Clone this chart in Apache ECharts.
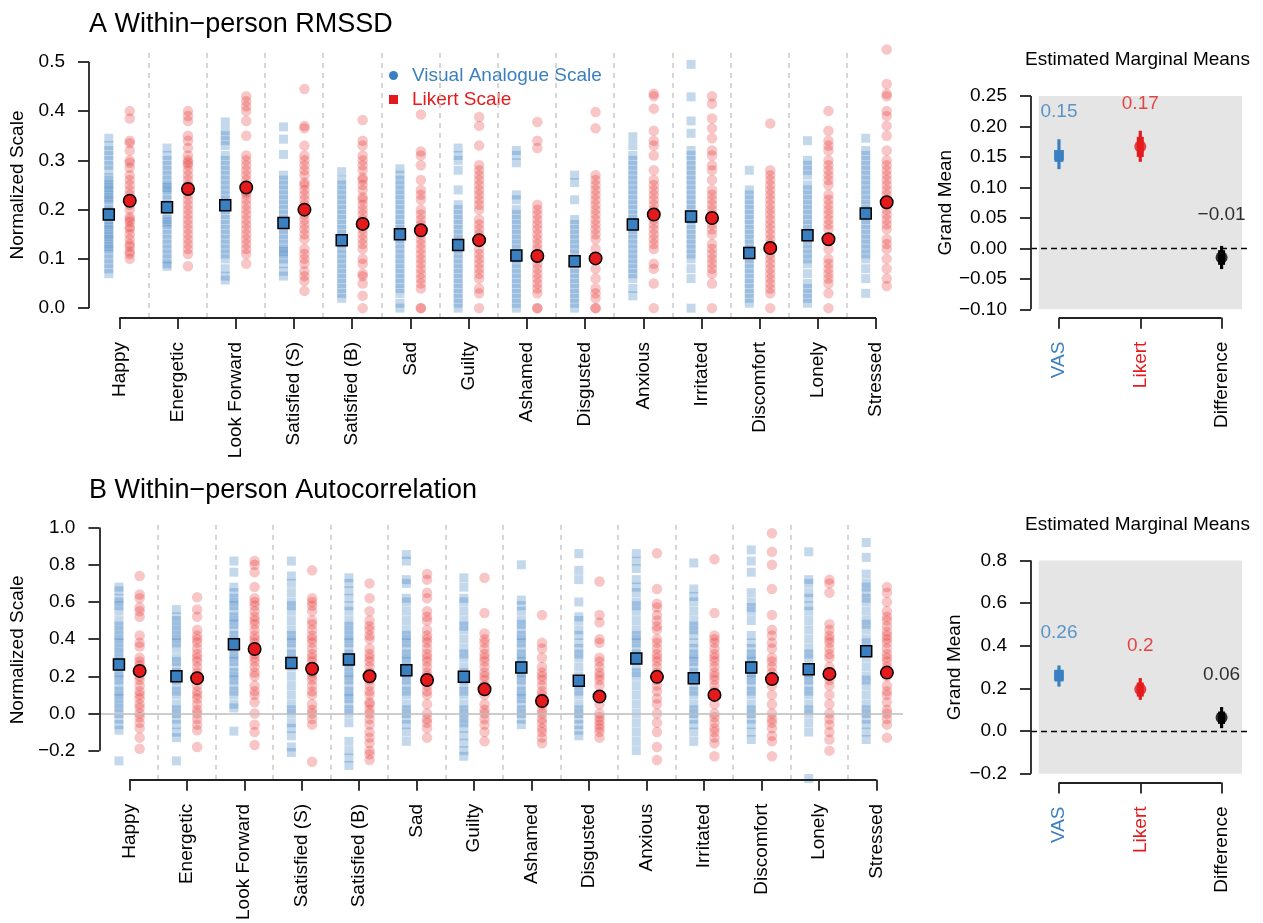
<!DOCTYPE html>
<html><head><meta charset="utf-8">
<script src="https://cdn.jsdelivr.net/npm/echarts@6/dist/echarts.min.js"></script>
<style>html,body{margin:0;padding:0;background:#fff}#c{width:1263px;height:923px}</style>
</head><body><div id="c"></div><script>
const categories = ['Happy','Energetic','Look Forward','Satisfied (S)','Satisfied (B)','Sad','Guilty','Ashamed','Disgusted','Anxious','Irritated','Discomfort','Lonely','Stressed'];
const rmssdTicks = [0,0.1,0.2,0.3,0.4,0.5];
const acTicks = [-0.2,0,0.2,0.4,0.6,0.8,1.0];
const emmLabels = ['VAS','Likert','Difference'];
const emmTicksA = [-0.1,-0.05,0,0.05,0.1,0.15,0.2,0.25];
const emmTicksB = [-0.2,0,0.2,0.4,0.6,0.8];

// Panel A: individual within-person RMSSD
const rmssdVas = [
 [0.345,0.33,0.32,0.31,0.30,0.29,0.28,0.265,0.26,0.25,0.245,0.24,0.23,0.225,0.22,0.21,0.20,0.195,0.19,0.18,0.17,0.165,0.16,0.15,0.145,0.14,0.13,0.125,0.12,0.11,0.10,0.09,0.08,0.07],
 [0.325,0.31,0.30,0.29,0.28,0.27,0.26,0.25,0.245,0.24,0.23,0.22,0.21,0.205,0.20,0.19,0.18,0.175,0.17,0.16,0.15,0.14,0.13,0.12,0.11,0.10,0.09,0.085],
 [0.378,0.36,0.35,0.34,0.33,0.31,0.30,0.29,0.28,0.27,0.26,0.25,0.24,0.23,0.22,0.21,0.20,0.19,0.18,0.17,0.16,0.15,0.14,0.13,0.12,0.11,0.10,0.08,0.065,0.057],
 [0.368,0.343,0.312,0.27,0.26,0.25,0.24,0.23,0.22,0.21,0.20,0.19,0.18,0.17,0.16,0.15,0.14,0.13,0.12,0.115,0.11,0.10,0.09,0.075,0.065],
 [0.277,0.26,0.25,0.24,0.23,0.22,0.21,0.20,0.19,0.18,0.17,0.16,0.15,0.14,0.13,0.12,0.11,0.10,0.09,0.08,0.07,0.06,0.05,0.04,0.03,0.02],
 [0.283,0.27,0.26,0.25,0.24,0.23,0.22,0.21,0.20,0.19,0.18,0.17,0.16,0.15,0.14,0.13,0.12,0.11,0.10,0.09,0.08,0.07,0.06,0.05,0.04,0.03,0.01,0.0],
 [0.325,0.31,0.30,0.28,0.24,0.21,0.20,0.19,0.18,0.17,0.16,0.15,0.14,0.13,0.12,0.11,0.10,0.09,0.08,0.07,0.06,0.05,0.04,0.03,0.02,0.01,0.0],
 [0.32,0.31,0.295,0.23,0.22,0.20,0.19,0.18,0.17,0.16,0.15,0.14,0.13,0.12,0.11,0.10,0.09,0.08,0.07,0.06,0.05,0.04,0.03,0.02,0.01,0.0],
 [0.27,0.255,0.22,0.18,0.17,0.16,0.15,0.14,0.13,0.12,0.11,0.10,0.09,0.08,0.07,0.06,0.05,0.04,0.03,0.02,0.01,0.0],
 [0.348,0.33,0.31,0.30,0.29,0.28,0.27,0.26,0.25,0.24,0.23,0.22,0.21,0.20,0.19,0.18,0.17,0.16,0.15,0.14,0.13,0.12,0.11,0.10,0.09,0.08,0.07,0.06,0.04,0.025],
 [0.495,0.429,0.38,0.355,0.32,0.31,0.30,0.29,0.28,0.27,0.26,0.25,0.24,0.23,0.22,0.21,0.20,0.19,0.18,0.17,0.16,0.15,0.14,0.13,0.12,0.11,0.10,0.08,0.06,0.0],
 [0.28,0.24,0.23,0.22,0.21,0.20,0.19,0.18,0.17,0.16,0.15,0.14,0.13,0.12,0.11,0.10,0.09,0.08,0.07,0.06,0.05,0.04,0.03,0.02,0.01],
 [0.34,0.30,0.29,0.28,0.27,0.25,0.24,0.23,0.22,0.21,0.20,0.19,0.18,0.17,0.16,0.15,0.14,0.13,0.12,0.11,0.10,0.09,0.07,0.05,0.04,0.03,0.02,0.01],
 [0.345,0.32,0.31,0.30,0.29,0.28,0.27,0.26,0.25,0.24,0.23,0.22,0.21,0.20,0.19,0.18,0.17,0.16,0.15,0.14,0.13,0.12,0.11,0.10,0.08,0.06,0.03]
];
const rmssdLikert = [
 [0.40,0.385,0.34,0.335,0.32,0.30,0.295,0.285,0.27,0.26,0.25,0.24,0.23,0.22,0.21,0.20,0.185,0.18,0.175,0.165,0.16,0.15,0.14,0.13,0.125,0.115,0.11,0.10],
 [0.40,0.39,0.38,0.35,0.34,0.325,0.31,0.30,0.295,0.29,0.28,0.27,0.26,0.25,0.24,0.23,0.22,0.21,0.20,0.19,0.18,0.17,0.16,0.15,0.14,0.13,0.12,0.11,0.085],
 [0.43,0.42,0.41,0.40,0.38,0.35,0.31,0.30,0.29,0.28,0.27,0.26,0.25,0.24,0.235,0.23,0.22,0.21,0.20,0.19,0.18,0.17,0.16,0.15,0.14,0.13,0.12,0.11,0.09],
 [0.445,0.37,0.365,0.33,0.31,0.30,0.29,0.28,0.27,0.255,0.25,0.24,0.23,0.22,0.21,0.20,0.19,0.18,0.17,0.16,0.15,0.14,0.12,0.11,0.10,0.09,0.075,0.065,0.055,0.035],
 [0.382,0.34,0.33,0.31,0.30,0.29,0.28,0.265,0.26,0.25,0.24,0.225,0.22,0.21,0.20,0.19,0.18,0.17,0.16,0.15,0.14,0.13,0.12,0.10,0.09,0.07,0.065,0.05,0.025,0.0],
 [0.393,0.318,0.31,0.29,0.26,0.24,0.23,0.22,0.20,0.19,0.18,0.17,0.16,0.15,0.14,0.13,0.12,0.11,0.10,0.09,0.08,0.07,0.06,0.05,0.04,0.0,0.0],
 [0.388,0.37,0.33,0.29,0.28,0.27,0.26,0.25,0.24,0.23,0.22,0.21,0.20,0.18,0.17,0.16,0.15,0.14,0.12,0.11,0.10,0.09,0.08,0.07,0.06,0.04,0.03,0.0],
 [0.378,0.34,0.325,0.21,0.20,0.19,0.18,0.17,0.16,0.15,0.14,0.13,0.12,0.11,0.10,0.09,0.08,0.07,0.06,0.05,0.04,0.03,0.0,0.0],
 [0.398,0.365,0.27,0.26,0.25,0.24,0.23,0.22,0.21,0.20,0.19,0.18,0.17,0.16,0.15,0.14,0.12,0.10,0.08,0.06,0.04,0.03,0.02,0.0,0.0],
 [0.435,0.43,0.405,0.36,0.34,0.33,0.31,0.28,0.26,0.25,0.24,0.23,0.22,0.21,0.20,0.19,0.18,0.17,0.16,0.15,0.14,0.13,0.12,0.09,0.08,0.05,0.0],
 [0.43,0.415,0.385,0.365,0.345,0.32,0.31,0.29,0.28,0.26,0.24,0.23,0.22,0.21,0.20,0.19,0.18,0.17,0.16,0.15,0.13,0.12,0.11,0.10,0.09,0.08,0.07,0.05,0.0],
 [0.375,0.28,0.27,0.26,0.25,0.24,0.23,0.22,0.21,0.20,0.19,0.18,0.17,0.16,0.15,0.14,0.13,0.12,0.11,0.10,0.09,0.08,0.07,0.06,0.05,0.04,0.03,0.0],
 [0.40,0.36,0.34,0.33,0.32,0.30,0.29,0.28,0.27,0.26,0.25,0.23,0.22,0.21,0.20,0.19,0.18,0.17,0.16,0.14,0.12,0.10,0.09,0.08,0.07,0.06,0.05,0.03,0.0],
 [0.525,0.455,0.435,0.43,0.40,0.39,0.37,0.35,0.32,0.30,0.29,0.28,0.27,0.26,0.25,0.24,0.23,0.22,0.21,0.20,0.19,0.18,0.17,0.16,0.14,0.13,0.12,0.10,0.08,0.06,0.045]
];
const rmssdVasMean = [0.19,0.205,0.209,0.173,0.138,0.15,0.128,0.107,0.095,0.17,0.186,0.112,0.148,0.192];
const rmssdLikertMean = [0.218,0.242,0.245,0.20,0.171,0.158,0.138,0.106,0.101,0.19,0.183,0.122,0.14,0.215];

// Panel B: individual within-person autocorrelation
const acVas = [
 [0.68,0.66,0.62,0.60,0.58,0.55,0.50,0.47,0.45,0.42,0.40,0.38,0.35,0.33,0.30,0.28,0.25,0.22,0.20,0.18,0.15,0.12,0.10,0.08,0.05,0.03,0.0,-0.03,-0.06,-0.09,-0.255],
 [0.56,0.52,0.50,0.47,0.45,0.42,0.40,0.38,0.35,0.30,0.28,0.25,0.22,0.20,0.18,0.15,0.12,0.10,0.05,0.02,0.0,-0.03,-0.06,-0.10,-0.13,-0.255],
 [0.82,0.76,0.68,0.65,0.62,0.60,0.58,0.55,0.52,0.50,0.48,0.45,0.42,0.40,0.38,0.35,0.32,0.30,0.28,0.25,0.22,0.20,0.18,0.15,0.12,0.10,0.05,0.03,-0.095],
 [0.82,0.74,0.70,0.65,0.60,0.58,0.55,0.50,0.45,0.42,0.40,0.38,0.35,0.32,0.30,0.25,0.20,0.15,0.10,0.05,0.02,0.0,-0.05,-0.08,-0.12,-0.18,-0.21],
 [0.73,0.70,0.66,0.62,0.58,0.55,0.50,0.47,0.45,0.42,0.40,0.38,0.35,0.32,0.30,0.27,0.25,0.22,0.20,0.18,0.15,0.12,0.10,0.08,0.05,0.02,0.0,-0.05,-0.15,-0.20,-0.24,-0.28],
 [0.855,0.82,0.72,0.70,0.62,0.60,0.55,0.50,0.45,0.42,0.40,0.38,0.35,0.32,0.30,0.28,0.25,0.22,0.20,0.18,0.15,0.12,0.10,0.05,0.02,0.0,-0.03,-0.06,-0.10,-0.15],
 [0.73,0.68,0.62,0.60,0.55,0.50,0.47,0.45,0.40,0.35,0.32,0.30,0.25,0.22,0.20,0.18,0.15,0.12,0.10,0.05,0.02,0.0,-0.03,-0.05,-0.08,-0.12,-0.16,-0.20,-0.23],
 [0.80,0.61,0.58,0.55,0.50,0.48,0.45,0.42,0.40,0.38,0.35,0.32,0.30,0.28,0.25,0.22,0.20,0.18,0.15,0.12,0.10,0.08,0.05,0.02,0.0,-0.03,-0.06],
 [0.86,0.77,0.72,0.60,0.52,0.50,0.45,0.42,0.38,0.35,0.32,0.30,0.25,0.20,0.15,0.12,0.10,0.05,0.02,0.0,-0.03,-0.06,-0.09,-0.12],
 [0.86,0.82,0.78,0.72,0.68,0.65,0.60,0.58,0.55,0.50,0.45,0.42,0.40,0.38,0.35,0.32,0.30,0.25,0.22,0.20,0.15,0.10,0.05,0.0,-0.05,-0.10,-0.15,-0.20],
 [0.81,0.67,0.63,0.60,0.55,0.50,0.47,0.45,0.42,0.38,0.35,0.32,0.30,0.28,0.25,0.22,0.20,0.18,0.15,0.12,0.10,0.05,0.02,0.0,-0.03,-0.06,-0.10,-0.15],
 [0.88,0.82,0.76,0.65,0.60,0.57,0.55,0.50,0.42,0.38,0.35,0.32,0.30,0.28,0.25,0.22,0.20,0.18,0.15,0.12,0.10,0.05,0.02,0.0,-0.03,-0.06,-0.10,-0.14],
 [0.87,0.72,0.70,0.65,0.62,0.58,0.55,0.50,0.45,0.40,0.35,0.32,0.30,0.25,0.22,0.20,0.18,0.15,0.12,0.10,0.05,0.02,0.0,-0.05,-0.10,-0.35],
 [0.92,0.84,0.75,0.70,0.68,0.65,0.62,0.60,0.55,0.50,0.48,0.45,0.40,0.38,0.35,0.30,0.25,0.20,0.18,0.15,0.10,0.05,0.02,0.0,-0.03,-0.06,-0.10,-0.14]
];
const acLikert = [
 [0.74,0.64,0.62,0.57,0.55,0.52,0.42,0.38,0.36,0.30,0.28,0.26,0.24,0.22,0.20,0.18,0.15,0.12,0.10,0.08,0.05,0.03,0.0,-0.02,-0.05,-0.08,-0.13,-0.19],
 [0.625,0.56,0.52,0.45,0.42,0.40,0.38,0.35,0.32,0.30,0.28,0.25,0.22,0.20,0.18,0.15,0.12,0.10,0.08,0.05,0.02,0.0,-0.03,-0.06,-0.09,-0.18],
 [0.82,0.80,0.76,0.68,0.62,0.60,0.58,0.55,0.52,0.50,0.48,0.45,0.42,0.40,0.38,0.35,0.32,0.30,0.28,0.25,0.22,0.20,0.15,0.12,0.10,0.06,0.0,-0.06,-0.10,-0.17],
 [0.77,0.62,0.60,0.58,0.55,0.50,0.48,0.45,0.42,0.40,0.38,0.35,0.32,0.30,0.28,0.25,0.22,0.20,0.18,0.15,0.12,0.10,0.05,0.02,0.0,-0.03,-0.06,-0.26],
 [0.70,0.62,0.55,0.50,0.47,0.45,0.42,0.40,0.35,0.32,0.30,0.28,0.25,0.22,0.20,0.18,0.15,0.12,0.10,0.06,0.05,0.02,0.0,-0.03,-0.06,-0.10,-0.13,-0.16,-0.20,-0.22,-0.25],
 [0.75,0.72,0.65,0.62,0.55,0.52,0.50,0.45,0.42,0.40,0.38,0.35,0.32,0.30,0.28,0.25,0.22,0.20,0.18,0.15,0.12,0.10,0.05,0.0,-0.03,-0.05,-0.08,-0.13],
 [0.73,0.54,0.43,0.40,0.38,0.35,0.32,0.30,0.28,0.25,0.22,0.20,0.18,0.15,0.12,0.10,0.05,0.02,0.0,-0.03,-0.06,-0.10,-0.15],
 [0.53,0.38,0.35,0.30,0.25,0.22,0.20,0.18,0.15,0.12,0.10,0.08,0.05,0.02,0.0,-0.03,-0.05,-0.08,-0.10,-0.13,-0.16],
 [0.71,0.53,0.49,0.40,0.38,0.30,0.28,0.25,0.22,0.20,0.18,0.15,0.10,0.05,0.0,-0.02,-0.04,-0.06,-0.08,-0.10,-0.13],
 [0.862,0.67,0.59,0.57,0.53,0.50,0.47,0.45,0.40,0.38,0.35,0.32,0.30,0.28,0.25,0.22,0.20,0.18,0.15,0.12,0.08,0.05,0.0,-0.05,-0.10,-0.18,-0.25],
 [0.83,0.54,0.42,0.40,0.38,0.35,0.32,0.30,0.28,0.25,0.22,0.20,0.18,0.15,0.12,0.10,0.05,0.0,-0.02,-0.05,-0.08,-0.10,-0.13,-0.16,-0.23],
 [0.97,0.87,0.80,0.67,0.53,0.45,0.42,0.38,0.35,0.30,0.28,0.25,0.22,0.18,0.15,0.10,0.05,0.0,-0.03,-0.05,-0.08,-0.12,-0.15,-0.23],
 [0.72,0.70,0.65,0.48,0.45,0.42,0.40,0.38,0.35,0.32,0.30,0.25,0.22,0.20,0.18,0.15,0.10,0.05,0.0,-0.03,-0.06,-0.10,-0.14,-0.20],
 [0.68,0.65,0.60,0.55,0.52,0.50,0.47,0.44,0.42,0.40,0.38,0.35,0.32,0.30,0.28,0.25,0.20,0.15,0.12,0.10,0.06,0.02,0.0,-0.03,-0.06,-0.13]
];
const acVasMean = [0.264,0.2,0.373,0.271,0.291,0.233,0.197,0.247,0.176,0.296,0.19,0.247,0.238,0.335];
const acLikertMean = [0.229,0.19,0.347,0.241,0.2,0.18,0.13,0.067,0.091,0.197,0.1,0.185,0.213,0.22];

// Estimated marginal means
const emmMeanA = [0.153,0.167,-0.015];
const emmInnerLoA = [0.142,0.150,-0.027];
const emmInnerHiA = [0.161,0.183,-0.003];
const emmOuterLoA = [0.130,0.142,-0.034];
const emmOuterHiA = [0.179,0.193,0.004];
const emmTextA = ['0.15','0.17','\u22120.01'];
const emmMeanB = [0.261,0.197,0.064];
const emmInnerLoB = [0.233,0.162,0.034];
const emmInnerHiB = [0.288,0.228,0.092];
const emmOuterLoB = [0.209,0.147,0.014];
const emmOuterHiB = [0.308,0.249,0.113];
const emmTextB = ['0.26','0.2','0.06'];

const BLUE = '#3A7FC0', RED = '#E41A1C', AX = '#222', FF = "'Liberation Sans', Arial, Helvetica, sans-serif";
const emmColors = [BLUE, RED, '#000000'];
const catIdx = categories.map((c,i)=>i);
const seps = categories.slice(1).map((c,i)=>i+0.5);
const fmt = (v,d) => (v < -1e-9 ? '\u2212' : '') + Math.abs(v).toFixed(d);

function pts(arrs, off){ const o=[]; arrs.forEach((a,i)=>a.forEach(v=>o.push([i+off,v]))); return o; }
function meanPts(arr, off){ return arr.map((v,i)=>[i+off,v]); }

const XMIN=-0.52, XMAX=13.46, EXMIN=-0.344, EXMAX=2.325;
const axStyle = {color:AX, width:1.8};
function tickCfg(vals){ return {show:true, length:11, inside:false, customValues:vals, lineStyle:axStyle}; }
const hiddenLine = {show:false, onZero:false};

function leftX(gi){
  return {type:'value', gridIndex:gi, min:XMIN, max:XMAX, axisLine:hiddenLine, splitLine:{show:false},
    axisTick:tickCfg(catIdx),
    axisLabel:{customValues:catIdx, rotate:90, margin:24, fontSize:19, color:'#000', fontFamily:FF,
      formatter:v=>categories[Math.round(v)]}};
}
function leftY(gi, mn, mx, ticks, d){
  return {type:'value', gridIndex:gi, min:mn, max:mx, axisLine:hiddenLine, splitLine:{show:false},
    axisTick:tickCfg(ticks),
    axisLabel:{customValues:ticks, margin:24, fontSize:19, color:'#000', fontFamily:FF, formatter:v=>fmt(v,d)},
    name:'Normalized Scale', nameLocation:'middle', nameGap:56,
    nameTextStyle:{fontSize:19, color:'#000', fontFamily:FF}};
}
function rightX(gi){
  return {type:'value', gridIndex:gi, min:EXMIN, max:EXMAX, axisLine:hiddenLine, splitLine:{show:false},
    axisTick:tickCfg([0,1,2]),
    axisLabel:{customValues:[0,1,2], rotate:90, margin:24, fontSize:19, fontFamily:FF,
      formatter:v=>emmLabels[Math.round(v)],
      color:(v,i)=>{ const k=Math.round(parseFloat(v)); return emmColors[isNaN(k)?i:k] || '#000'; }}};
}
function rightY(gi, mn, mx, ticks, d){
  return {type:'value', gridIndex:gi, min:mn, max:mx, axisLine:hiddenLine, splitLine:{show:false},
    axisTick:tickCfg(ticks),
    axisLabel:{customValues:ticks, margin:24, fontSize:19, color:'#000', fontFamily:FF, formatter:v=>fmt(v,d)},
    name:'Grand Mean', nameLocation:'middle', nameGap:67,
    nameTextStyle:{fontSize:19, color:'#000', fontFamily:FF}};
}
function axisLineData(xAt, ylo, yhi, xlo, xhi, yAt){
  return [[{coord:[xAt,ylo]},{coord:[xAt,yhi]}],[{coord:[xlo,yAt]},{coord:[xhi,yAt]}]];
}

function leftSeries(gi, vas, lik, vasM, likM, ymin, ylo, yhi, zeroLine){
  const s = [];
  s.push({type:'scatter', name:'sep', xAxisIndex:gi, yAxisIndex:gi, data:[], silent:true, z:1,
    markLine:{silent:true, symbol:['none','none'], label:{show:false}, animation:false,
      lineStyle:{type:[5,5], color:'#c9c9c9', width:1.5},
      data:seps.map(x=>({xAxis:x})).concat(zeroLine ? [{yAxis:0, lineStyle:{type:'solid', color:'#bdbdbd', width:1.5}}] : [])}});
  s.push({type:'scatter', name:'Visual Analogue Scale', xAxisIndex:gi, yAxisIndex:gi, data:pts(vas,-0.18),
    symbol:'rect', symbolSize:9, clip:false, z:2, itemStyle:{color:BLUE, opacity:0.3}, emphasis:{disabled:true}});
  s.push({type:'scatter', name:'Likert Scale', xAxisIndex:gi, yAxisIndex:gi, data:pts(lik,0.18),
    symbol:'circle', symbolSize:10.5, clip:false, z:2, itemStyle:{color:RED, opacity:0.25}, emphasis:{disabled:true}});
  s.push({type:'scatter', name:'vasMean', xAxisIndex:gi, yAxisIndex:gi, data:meanPts(vasM,-0.18),
    symbol:'rect', symbolSize:11, clip:false, z:5, itemStyle:{color:BLUE, borderColor:'#000', borderWidth:1.5, opacity:1},
    markLine:{silent:true, symbol:['none','none'], label:{show:false}, animation:false, lineStyle:{type:'solid', color:AX, width:1.8},
      data:axisLineData(XMIN, ylo, yhi, 0, 13, ymin)}});
  s.push({type:'scatter', name:'likMean', xAxisIndex:gi, yAxisIndex:gi, data:meanPts(likM,0.18),
    symbol:'circle', symbolSize:12.5, clip:false, z:6, itemStyle:{color:RED, borderColor:'#000', borderWidth:1.5, opacity:1}});
  return s;
}

function ciRender(width){
  return function(params, api){
    const x = api.value(0), lo = api.value(1), hi = api.value(2);
    const p1 = api.coord([x, lo]), p2 = api.coord([x, hi]);
    const k = Math.round(x);
    return {type:'line', shape:{x1:p1[0], y1:p1[1], x2:p2[0], y2:p2[1]},
      style:{stroke:emmColors[k], lineWidth:(k===0 && width>5) ? width+2 : width}};
  };
}
function rightSeries(gi, mean, ilo, ihi, olo, ohi, texts, ymin, ylo, yhi){
  const s = [];
  s.push({type:'scatter', name:'bg', xAxisIndex:gi, yAxisIndex:gi, data:[], silent:true, z:0,
    markArea:{silent:true, itemStyle:{color:'#E5E5E5'}, data:[[{coord:[-0.25, ylo]},{coord:[2.25, yhi]}]]},
    markLine:{silent:true, symbol:['none','none'], label:{show:false}, animation:false,
      lineStyle:{type:[6,4], color:'#000', width:1.3}, data:[{yAxis:0}]}});
  s.push({type:'custom', name:'outer', xAxisIndex:gi, yAxisIndex:gi, z:3, silent:true,
    encode:{x:0, y:[1,2]}, renderItem:ciRender(3.2), data:olo.map((v,i)=>[i, v, ohi[i]])});
  s.push({type:'custom', name:'inner', xAxisIndex:gi, yAxisIndex:gi, z:3, silent:true,
    encode:{x:0, y:[1,2]}, renderItem:ciRender(7), data:ilo.map((v,i)=>[i, v, ihi[i]])});
  s.push({type:'scatter', name:'emm', xAxisIndex:gi, yAxisIndex:gi, z:4, silent:true, clip:false,
    data:mean.map((v,i)=>({value:[i,v], symbol: i===0 ? 'rect' : 'circle', symbolSize: i===0 ? 10 : 12,
      itemStyle:{color:emmColors[i]},
      label:{show:true, position:'inside', offset:[0,-43], formatter:texts[i], color:emmColors[i], fontSize:19, fontFamily:FF}})),
    markLine:{silent:true, symbol:['none','none'], label:{show:false}, animation:false, lineStyle:{type:'solid', color:AX, width:1.8},
      data:axisLineData(EXMIN, ylo, yhi, 0, 2, ymin)}});
  return s;
}

const chart = echarts.init(document.getElementById('c'), null, {renderer:'canvas'});
const option = {
  animation:false,
  backgroundColor:'#ffffff',
  textStyle:{fontFamily:FF},
  title:[
    {text:'A Within\u2212person RMSSD', left:84, top:6, padding:5, textStyle:{fontSize:27, fontWeight:'normal', color:'#000', fontFamily:FF}},
    {text:'B Within\u2212person Autocorrelation', left:84, top:472, padding:5, textStyle:{fontSize:27, fontWeight:'normal', color:'#000', fontFamily:FF}},
    {text:'Estimated Marginal Means', left:1020, top:45, padding:5, textStyle:{fontSize:19, fontWeight:'normal', color:'#000', fontFamily:FF}},
    {text:'Estimated Marginal Means', left:1020, top:510, padding:5, textStyle:{fontSize:19, fontWeight:'normal', color:'#000', fontFamily:FF}}
  ],
  legend:{
    orient:'vertical', left:384, top:61, padding:5, itemWidth:27, itemHeight:9, itemGap:5, selectedMode:false,
    symbolKeepAspect:true,
    textStyle:{fontSize:19, lineHeight:19, fontFamily:FF},
    data:[
      {name:'Visual Analogue Scale', icon:'circle', itemStyle:{color:BLUE, opacity:1, borderWidth:0}, textStyle:{color:BLUE}},
      {name:'Likert Scale', icon:'path://M0 0H10V10H0Z', itemStyle:{color:RED, opacity:1, borderWidth:0}, textStyle:{color:RED}}
    ]
  },
  grid:[
    {left:89, top:52, width:814, height:266},
    {left:1031, top:87.6, width:217, height:230.1},
    {left:89, top:520, width:814, height:264},
    {left:1031, top:552.2, width:217, height:230.3}
  ],
  xAxis:[leftX(0), rightX(1), leftX(2), rightX(3)],
  yAxis:[
    leftY(0, -0.02, 0.52, rmssdTicks, 1),
    rightY(1, -0.1138, 0.2638, emmTicksA, 2),
    leftY(2, -0.357, 1.041, acTicks, 1),
    rightY(3, -0.2408, 0.8392, emmTicksB, 1)
  ],
  series:[].concat(
    leftSeries(0, rmssdVas, rmssdLikert, rmssdVasMean, rmssdLikertMean, -0.02, 0, 0.5, false),
    rightSeries(1, emmMeanA, emmInnerLoA, emmInnerHiA, emmOuterLoA, emmOuterHiA, emmTextA, -0.1138, -0.1, 0.25),
    leftSeries(2, acVas, acLikert, acVasMean, acLikertMean, -0.357, -0.2, 1.0, true),
    rightSeries(3, emmMeanB, emmInnerLoB, emmInnerHiB, emmOuterLoB, emmOuterHiB, emmTextB, -0.2408, -0.2, 0.8)
  )
};
chart.setOption(option);
</script></body></html>
